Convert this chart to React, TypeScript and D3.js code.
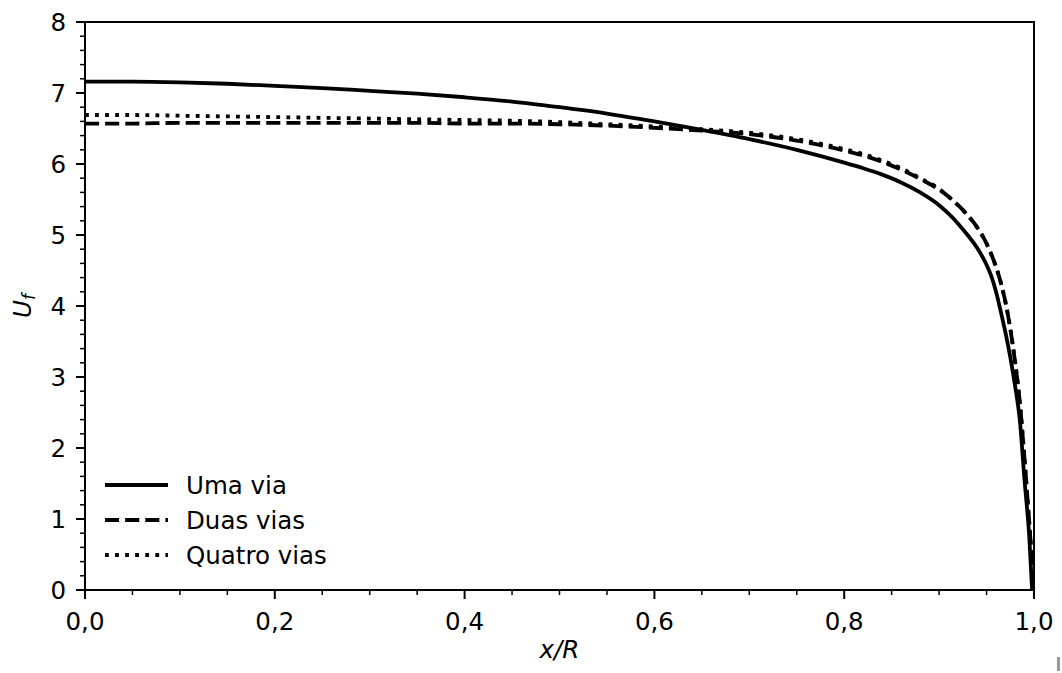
import React from "react";
import * as d3 from "d3";

const xGrid = [0, 0.05, 0.1, 0.15, 0.2, 0.25, 0.3, 0.35, 0.4, 0.45, 0.5, 0.55, 0.6, 0.65, 0.7, 0.75, 0.8, 0.82, 0.84, 0.86, 0.88, 0.9, 0.91, 0.92, 0.93, 0.94, 0.95, 0.955, 0.96, 0.965, 0.97, 0.975, 0.98, 0.985, 0.99, 0.995, 1.0];
const umaVia = [7.16, 7.16, 7.15, 7.13, 7.10, 7.07, 7.03, 6.99, 6.94, 6.88, 6.80, 6.71, 6.60, 6.48, 6.35, 6.20, 6.02, 5.94, 5.85, 5.74, 5.60, 5.42, 5.30, 5.16, 5.00, 4.82, 4.58, 4.42, 4.20, 3.92, 3.62, 3.28, 2.88, 2.40, 1.55, 0.75, 0];
const duasVias = [6.57, 6.57, 6.58, 6.58, 6.58, 6.58, 6.58, 6.58, 6.57, 6.57, 6.56, 6.54, 6.51, 6.47, 6.42, 6.33, 6.19, 6.12, 6.03, 5.92, 5.79, 5.64, 5.54, 5.42, 5.28, 5.11, 4.88, 4.73, 4.55, 4.33, 4.05, 3.68, 3.22, 2.65, 1.85, 0.95, 0];
const quatroVias = [6.69, 6.69, 6.68, 6.67, 6.66, 6.65, 6.64, 6.63, 6.62, 6.61, 6.59, 6.56, 6.53, 6.49, 6.44, 6.35, 6.21, 6.14, 6.05, 5.94, 5.80, 5.65, 5.54, 5.42, 5.28, 5.11, 4.88, 4.73, 4.55, 4.33, 4.05, 3.68, 3.22, 2.65, 1.85, 0.95, 0];
const umaViaEndX = 0.998;

const xTicks = [0, 0.2, 0.4, 0.6, 0.8, 1.0];
const xTickLabels = ["0,0", "0,2", "0,4", "0,6", "0,8", "1,0"];
const yTicks = [0, 1, 2, 3, 4, 5, 6, 7, 8];
const legendLabels = ["Uma via", "Duas vias", "Quatro vias"];

const W = 1062, H = 673;
const L = 85, R = 1034, T = 22, B = 590;
const FONT = "DejaVu Sans, sans-serif";
const FS = 24.5;
const LW = 3.8;

export default function App() {
  const x = d3.scaleLinear().domain([0, 1]).range([L, R]);
  const y = d3.scaleLinear().domain([0, 8]).range([B, T]);
  const line = d3
    .line<[number, number]>()
    .x((d) => x(d[0]))
    .y((d) => y(d[1]))
    .curve(d3.curveMonotoneX);

  const umaPts: [number, number][] = xGrid.map((xv, i) => [i === xGrid.length - 1 ? umaViaEndX : xv, umaVia[i]]);
  const duasPts: [number, number][] = xGrid.map((xv, i) => [xv, duasVias[i]]);
  const quatroPts: [number, number][] = xGrid.map((xv, i) => [xv, quatroVias[i]]);

  const xMinor = d3.range(0, 1.0001, 0.05).filter((v) => !xTicks.some((t) => Math.abs(t - v) < 1e-6));
  const yMinor = d3.range(0, 8.0001, 0.2).filter((v) => !yTicks.some((t) => Math.abs(t - v) < 1e-6));

  const dashes: (string | undefined)[] = [undefined, `${3.7 * LW} ${1.6 * LW}`, `${1 * LW} ${1.65 * LW}`];
  const legendY = [485, 520, 555];

  return (
    <svg width={W} height={H} style={{ position: "absolute", left: 0, top: 0, background: "#fff" }} fontFamily={FONT}>
      <rect x={0} y={0} width={W} height={H} fill="#fff" />
      <defs>
        <clipPath id="plotclip">
          <rect x={L} y={T - 5} width={R - L} height={B - T + 10} />
        </clipPath>
      </defs>
      <g clipPath="url(#plotclip)">
        <path d={line(umaPts) || ""} fill="none" stroke="#000" strokeWidth={LW} />
        <path d={line(duasPts) || ""} fill="none" stroke="#000" strokeWidth={LW} strokeDasharray={dashes[1]} />
        <path d={line(quatroPts) || ""} fill="none" stroke="#000" strokeWidth={LW} strokeDasharray={dashes[2]} />
      </g>
      <rect x={L} y={T} width={R - L} height={B - T} fill="none" stroke="#000" strokeWidth={2} />
      {xTicks.map((t, i) => (
        <g key={"xt" + i}>
          <line x1={x(t)} x2={x(t)} y1={B} y2={B + 9} stroke="#000" strokeWidth={2} />
          <text x={x(t)} y={630} textAnchor="middle" fontSize={FS} fill="#000">
            {xTickLabels[i]}
          </text>
        </g>
      ))}
      {xMinor.map((t, i) => (
        <line key={"xm" + i} x1={x(t)} x2={x(t)} y1={B} y2={B + 5} stroke="#000" strokeWidth={1.5} />
      ))}
      {yTicks.map((t, i) => (
        <g key={"yt" + i}>
          <line x1={L - 9} x2={L} y1={y(t)} y2={y(t)} stroke="#000" strokeWidth={2} />
          <text x={66} y={y(t)} dy="0.36em" textAnchor="end" fontSize={FS} fill="#000">
            {String(t)}
          </text>
        </g>
      ))}
      {yMinor.map((t, i) => (
        <line key={"ym" + i} x1={L - 5} x2={L} y1={y(t)} y2={y(t)} stroke="#000" strokeWidth={1.5} />
      ))}
      <text x={(L + R) / 2} y={658} textAnchor="middle" fontSize={FS} fontStyle="italic" fill="#000">
        x/R
      </text>
      <text transform={`translate(31, ${(T + B) / 2}) rotate(-90)`} textAnchor="middle" fontSize={FS} fill="#000">
        <tspan fontStyle="italic">U</tspan>
        <tspan fontStyle="italic" fontSize={17} dy={4}>f</tspan>
      </text>
      {legendLabels.map((lab, i) => (
        <g key={"lg" + i}>
          <line x1={105} x2={168} y1={legendY[i]} y2={legendY[i]} stroke="#000" strokeWidth={LW} strokeDasharray={dashes[i]} />
          <text x={186} y={legendY[i]} dy="0.36em" fontSize={FS} fill="#000">
            {lab}
          </text>
        </g>
      ))}
      <rect x={1057} y={657} width={3} height={14} fill="#999" />
    </svg>
  );
}
